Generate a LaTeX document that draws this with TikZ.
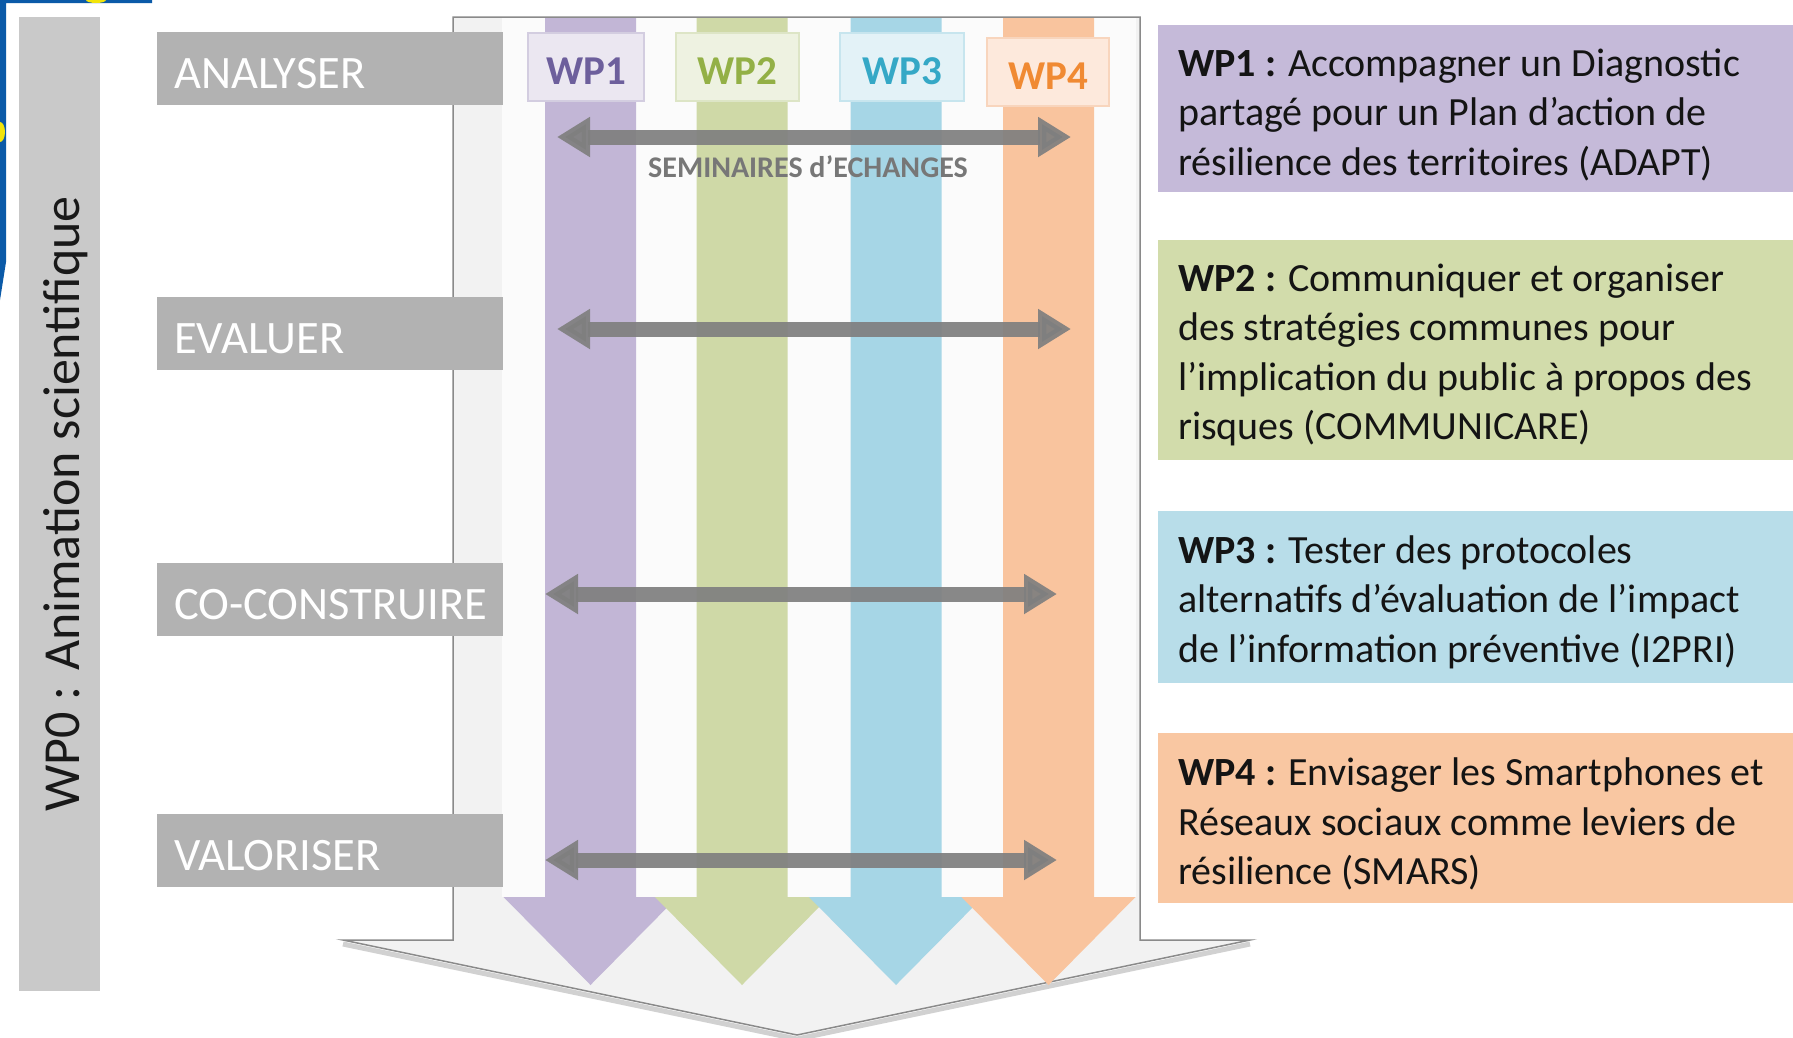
\documentclass[tikz,border=0pt]{standalone}
\usepackage{fontspec}
\setmainfont{Carlito}
\usetikzlibrary{arrows.meta}
\definecolor{framebl}{HTML}{0B5AA8}
\definecolor{yel}{HTML}{F2E40A}
\definecolor{outlinebg}{HTML}{F2F2F2}
\definecolor{outlinedr}{HTML}{8A8A8A}
\definecolor{bandw}{HTML}{FBFBFB}
\definecolor{colA}{HTML}{C2B6D6}
\definecolor{colB}{HTML}{CFD9A7}
\definecolor{colC}{HTML}{A6D6E6}
\definecolor{colD}{HTML}{F9C49E}
\definecolor{boxA}{HTML}{C5BAD9}
\definecolor{boxB}{HTML}{D2DCAB}
\definecolor{boxC}{HTML}{B8DDE9}
\definecolor{boxD}{HTML}{F9C7A2}
\definecolor{lblgray}{HTML}{B2B2B2}
\definecolor{barg}{HTML}{C9C9C9}
\definecolor{dblg}{HTML}{7F7F7F}
\definecolor{tagfA}{HTML}{EBE7F1}
\definecolor{tagfB}{HTML}{EEF2E1}
\definecolor{tagfC}{HTML}{E3F2F7}
\definecolor{tagfD}{HTML}{FDE9DC}
\definecolor{tagdA}{HTML}{D3CDE0}
\definecolor{tagdB}{HTML}{DDE5C6}
\definecolor{tagdC}{HTML}{C7E5EE}
\definecolor{tagdD}{HTML}{F8D5BD}
\definecolor{tagtA}{HTML}{6D5F9C}
\definecolor{tagtB}{HTML}{93B046}
\definecolor{tagtC}{HTML}{35A8C6}
\definecolor{tagtD}{HTML}{F08A33}
\definecolor{semi}{HTML}{777777}
\hbadness=10000 \hfuzz=100pt
\begin{document}
\begin{tikzpicture}[x=1pt,y=-1pt,
  lbl/.style={rectangle, fill=lblgray, text=white, anchor=west, inner sep=0pt,
    inner xsep=17pt, minimum width=346pt, minimum height=73pt, text width=312pt,
    text height=39pt, text depth=0pt,
    align=left, font=\fontsize{46.5}{54}\selectfont},
  wpbar/.style={rectangle, fill=barg, inner sep=0pt,
    minimum width=81pt, minimum height=974pt},
  wpzero/.style={rotate=90, inner sep=0pt, text=black!90,
    font=\fontsize{52}{60}\selectfont},
  tagbox/.style={rectangle, line width=1.2pt, inner sep=0pt, minimum height=68pt,
    text height=34pt, text depth=0pt,
    font=\bfseries\fontsize{41}{48}\selectfont},
  descbox/.style={rectangle, anchor=north west, inner sep=0pt, minimum width=635pt},
  desctext/.style={anchor=west, align=left, inner sep=0pt, text=black!92,
    font=\fontsize{40}{49.5}\selectfont},
  dbl/.style={draw=dblg, line width=15pt, opacity=0.92,
    {Triangle[length=33pt,width=38pt]}-{Triangle[length=33pt,width=38pt]}},
  semtext/.style={text=semi, font=\bfseries\fontsize{30}{34}\selectfont, inner sep=0pt}
]
\useasboundingbox (0,0) rectangle (1793,1037);
\fill[white] (0,0) rectangle (1793,1037);

% cropped slide frame at the top left
\fill[framebl] (0,0) -- (152,0) -- (152,3) -- (6,3) -- (6,262) -- (0,300) -- cycle;
\fill[yel] (0,132) ellipse [x radius=5, y radius=10];
\fill[yel] (96,0) ellipse [x radius=10, y radius=3];

% WP0 bar
\node[wpbar] (wp0bar) at (59.5,504) {};
\node[wpzero] (wp0) at (66,504) {WP0 : Animation scientifique};

% big arrow outline
\draw[line width=5pt, black!18] (343,944) -- (797,1039) -- (1250,944);
\filldraw[fill=outlinebg, draw=outlinedr, line width=1.5pt]
  (453,17) -- (1140,17) -- (1140,940) -- (1250,940) -- (797,1035) -- (343,940) -- (453,940) -- cycle;

% white band behind the columns
\fill[bandw] (502,18) rectangle (1136,897);

% coloured work-package arrows
\foreach \c/\col in {590.5/colA, 742/colB, 896/colC, 1048.5/colD} {
  \fill[\col] ({\c-45.5},18) -- ({\c+45.5},18) -- ({\c+45.5},897) -- ({\c+87},897)
    -- (\c,985) -- ({\c-87},897) -- ({\c-45.5},897) -- cycle;
}

% WP tags at the top
\node[tagbox, fill=tagfA, draw=tagdA, text=tagtA, minimum width=116pt] (t1) at (586,67) {WP1};
\node[tagbox, fill=tagfB, draw=tagdB, text=tagtB, minimum width=123pt] (t2) at (737.5,67) {WP2};
\node[tagbox, fill=tagfC, draw=tagdC, text=tagtC, minimum width=124pt] (t3) at (902,67) {WP3};
\node[tagbox, fill=tagfD, draw=tagdD, text=tagtD, minimum width=122pt] (t4) at (1048,72) {WP4};

% phase labels
\node[lbl] (l1) at (157,68.5) {\mbox{ANALYSER}};
\node[lbl] (l2) at (157,333.5) {\mbox{EVALUER}};
\node[lbl] (l3) at (157,599.5) {\mbox{CO-CONSTRUIRE}};
\node[lbl] (l4) at (157,850.5) {\mbox{VALORISER}};

% exchange arrows
\coordinate (s1w) at (557,137);  \coordinate (s1e) at (1071,137);
\coordinate (s2w) at (557,329);  \coordinate (s2e) at (1071,329);
\coordinate (s3w) at (545,594);  \coordinate (s3e) at (1057,594);
\coordinate (s4w) at (545,860);  \coordinate (s4e) at (1057,860);
\draw[dbl] (s1w) -- (s1e);
\draw[dbl] (s2w) -- (s2e);
\draw[dbl] (s3w) -- (s3e);
\draw[dbl] (s4w) -- (s4e);
\node[semtext, anchor=base] (sem) at (808,177) {SEMINAIRES d’ECHANGES};

% description boxes
\node[descbox, fill=boxA, minimum height=167pt] (d1) at (1158,25) {};
\node[descbox, fill=boxB, minimum height=220pt] (d2) at (1158,240) {};
\node[descbox, fill=boxC, minimum height=172pt] (d3) at (1158,511) {};
\node[descbox, fill=boxD, minimum height=170pt] (d4) at (1158,733) {};
\node[desctext] (d1t) at ([xshift=20pt,yshift=-6pt]d1.west)
  {\textbf{WP1 :} Accompagner un Diagnostic\\partagé pour un Plan d’action de\\résilience des territoires (ADAPT)};
\node[desctext] (d2t) at ([xshift=20pt,yshift=-5pt]d2.west)
  {\textbf{WP2 :} Communiquer et organiser\\des stratégies communes pour\\l’implication du public à propos des\\risques (COMMUNICARE)};
\node[desctext] (d3t) at ([xshift=20pt,yshift=-5pt]d3.west)
  {\textbf{WP3 :} Tester des protocoles\\alternatifs d’évaluation de l’impact\\de l’information préventive (I2PRI)};
\node[desctext] (d4t) at ([xshift=20pt,yshift=-6pt]d4.west)
  {\textbf{WP4 :} Envisager les Smartphones et\\Réseaux sociaux comme leviers de\\résilience (SMARS)};
\end{tikzpicture}
\end{document}
